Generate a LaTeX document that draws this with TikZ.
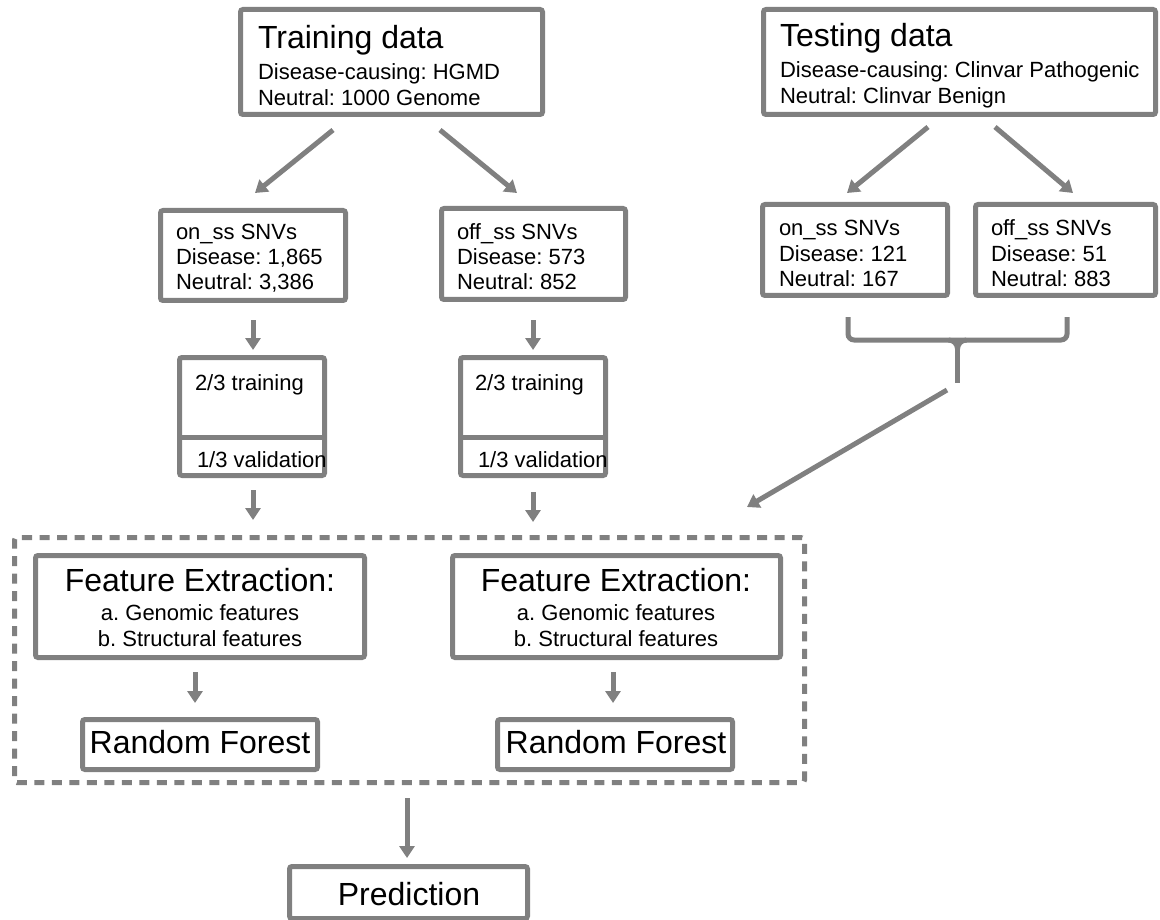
\documentclass[tikz,border=0pt]{standalone}
\usepackage{fontspec}
\setmainfont{Liberation Sans}
\usetikzlibrary{arrows.meta,calc}
\definecolor{bordergray}{RGB}{128,128,128}
\tikzset{
  box/.style={draw=bordergray, line width=5pt, rounded corners=2.5pt, inner sep=0pt, outer sep=0pt, fill=white},
  grpbox/.style={draw=bordergray, line width=5pt, rounded corners=2.5pt, inner sep=0pt, outer sep=0pt, dash pattern=on 10pt off 7.5pt},
  arr/.style={draw=bordergray, line width=5pt, -{Triangle[width=15pt,length=12pt]}},
  brk/.style={draw=bordergray, line width=5pt},
  txt/.style={inner sep=0pt, outer sep=0pt, align=left, font=\fontsize{22}{25.5}\selectfont},
  ctxt/.style={inner sep=0pt, outer sep=0pt, align=center, font=\fontsize{22}{25.5}\selectfont},
  bigtxt/.style={inner sep=0pt, outer sep=0pt, font=\fontsize{32}{36}\selectfont},
}
\newcommand{\bigfont}{\fontsize{32}{36}\selectfont}
\begin{document}
\frenchspacing
\begin{tikzpicture}[x=1pt,y=-1pt]
\useasboundingbox (0,0) rectangle (1160,920);

% group (dashed)
\node[grpbox, minimum width=790pt, minimum height=245pt] (grp) at (409.5,660) {};

% boxes
\node[box, minimum width=302pt, minimum height=105pt] (train) at (391.5,62) {};
\node[box, minimum width=392pt, minimum height=105pt] (test) at (959.5,62) {};
\node[box, minimum width=185pt, minimum height=90pt] (onss) at (253,255.5) {};
\node[box, minimum width=184pt, minimum height=91pt] (offss) at (533.5,254) {};
\node[box, minimum width=185pt, minimum height=91pt] (tonss) at (855,250) {};
\node[box, minimum width=180pt, minimum height=91pt] (toffss) at (1065.5,250) {};
\node[box, minimum width=145pt, minimum height=118pt] (splitL) at (252,416.5) {};
\node[box, minimum width=145pt, minimum height=118pt] (splitR) at (533,416.5) {};
\draw[brk] ($(splitL.west)+(0,20.5)$) -- ($(splitL.east)+(0,20.5)$);
\draw[brk] ($(splitR.west)+(0,20.5)$) -- ($(splitR.east)+(0,20.5)$);
\node[box, minimum width=329pt, minimum height=102pt] (feL) at (200,606.5) {};
\node[box, minimum width=328pt, minimum height=102pt] (feR) at (616.5,606.5) {};
\node[box, minimum width=235pt, minimum height=50pt] (rfL) at (200,744.5) {};
\node[box, minimum width=235pt, minimum height=50pt] (rfR) at (615,744.5) {};
\node[box, minimum width=238pt, minimum height=52pt] (pred) at (408.5,892.5) {};

% texts (multi-line nodes: base = baseline of last line)
\node[txt, anchor=base west] (trainT) at (258,105.5) {{\bigfont Training data}\\[6pt]Disease-causing: HGMD\\Neutral: 1000 Genome};
\node[txt, anchor=base west] (testT) at (780,103.5) {{\bigfont Testing data}\\[6pt]Disease-causing: Clinvar Pathogenic\\Neutral: Clinvar Benign};
\node[txt, anchor=base west] (onssT) at (176,290) {on\_ss SNVs\\Disease: 1,865\\Neutral: 3,386};
\node[txt, anchor=base west] (offssT) at (457,290) {off\_ss SNVs\\Disease: 573\\Neutral: 852};
\node[txt, anchor=base west] (tonssT) at (779,287) {on\_ss SNVs\\Disease: 121\\Neutral: 167};
\node[txt, anchor=base west] (toffssT) at (991,287) {off\_ss SNVs\\Disease: 51\\Neutral: 883};
\node[txt, anchor=base west] (trL) at (195,390) {2/3 training};
\node[txt, anchor=base west] (vaL) at (197,467) {1/3 validation};
\node[txt, anchor=base west] (trR) at (475,390) {2/3 training};
\node[txt, anchor=base west] (vaR) at (478,467) {1/3 validation};
\node[ctxt, anchor=base] (feLT) at (200,646) {{\bigfont Feature Extraction:}\\[3.5pt]a. Genomic features\\b. Structural features};
\node[ctxt, anchor=base] (feRT) at (616,646) {{\bigfont Feature Extraction:}\\[3.5pt]a. Genomic features\\b. Structural features};
\node[bigtxt, anchor=base] (rfLT) at (200,753) {Random Forest};
\node[bigtxt, anchor=base] (rfRT) at (616,753) {Random Forest};
\node[bigtxt, anchor=base] (predT) at (409,905) {Prediction};

% arrows
\draw[arr] ($(train.south)+(-58.5,15.5)$) -- ($(onss.north)+(2,-17.5)$);
\draw[arr] ($(train.south)+(48.5,15.5)$) -- ($(offss.north)+(-16.5,-15.5)$);
\draw[arr] ($(test.south)+(-31.5,12.5)$) -- ($(tonss.north)+(-8,-11.5)$);
\draw[arr] ($(test.south)+(35.5,12.5)$) -- ($(toffss.north)+(7.5,-11.5)$);
\draw[arr] ($(onss.south)+(0,19.5)$) -- ($(splitL.north)+(1,-7.5)$);
\draw[arr] ($(offss.south)+(-0.5,20.5)$) -- ($(splitR.north)+(0,-7.5)$);
\draw[arr] ($(splitL.south)+(1,14.5)$) -- ($(splitL.south |- grp.north)+(1,-17.5)$);
\draw[arr] ($(splitR.south)+(0,16.5)$) -- ($(splitR.south |- grp.north)+(0,-15.5)$);
\draw[arr] ($(feL.south)+(-5,14.5)$) -- ($(rfL.north)+(-5,-16.5)$);
\draw[arr] ($(feR.south)+(-3.5,14.5)$) -- ($(rfR.north)+(-2,-16.5)$);
\draw[arr] ($(grp.south)+(-2.5,15.5)$) -- ($(pred.north)+(-1.5,-8.5)$);

% bracket
\coordinate (bl) at ($(tonss.south)+(-7,21.5)$);
\coordinate (br) at ($(toffss.south)+(1.5,21.5)$);
\coordinate (bm) at ($(bl)!0.5!(br)+(0,23)$);
\coordinate (stem) at ($(bm)+(0,43)$);
\draw[brk, rounded corners=6pt] (bl) -- ($(bl)+(0,23)$) -- ($(br)+(0,23)$) -- (br);
\draw[brk] (bm) -- (stem);
\draw[brk, line cap=butt] ($(bm)+(-9,0)$) to[out=0,in=90] ($(bm)+(0,9)$) to[out=90,in=180] ($(bm)+(9,0)$);
\draw[arr] ($(stem)+(-10.5,7)$) -- ($(grp.north east)+(-57.5,-30.5)$);
\end{tikzpicture}
\end{document}
